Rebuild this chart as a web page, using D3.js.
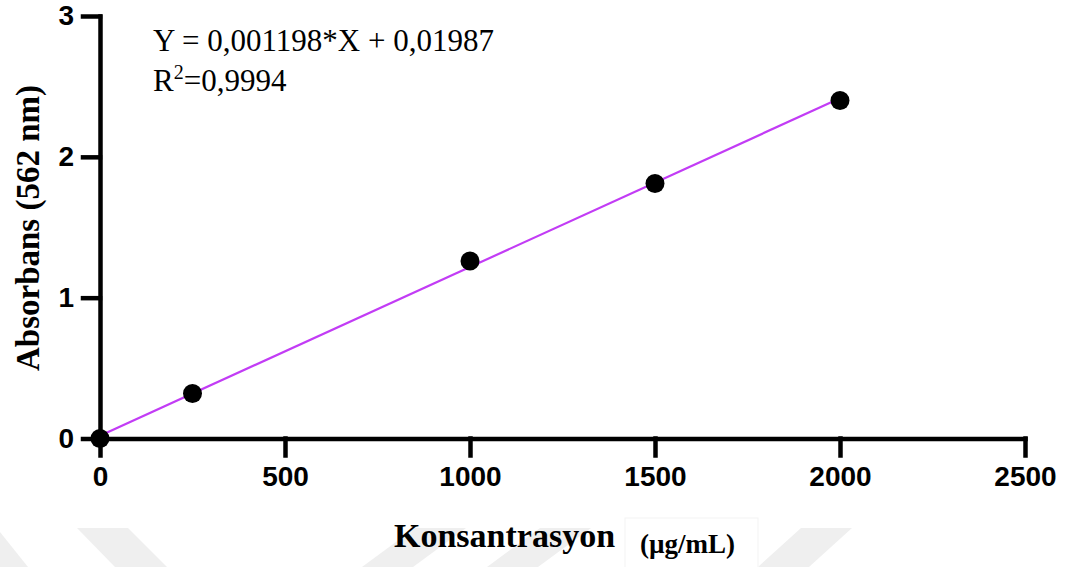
<!DOCTYPE html>
<html>
<head>
<meta charset="utf-8">
<script src="https://cdn.jsdelivr.net/npm/d3@7"></script>
<style>
  html, body { margin: 0; padding: 0; background: #fff; }
  svg { display: block; }
</style>
</head>
<body>
<svg id="chart" width="1072" height="567"></svg>
<script>
// Standard curve: concentration (µg/mL) vs absorbance at 562 nm
const concentrations = [0, 250, 1000, 1500, 2000];
const absorbances = [0, 0.32, 1.26, 1.81, 2.40];
const fitSlope = 0.001198;
const fitIntercept = 0.01987;
const fitRange = [0, 2000];
const xTicks = [0, 500, 1000, 1500, 2000, 2500];
const yTicks = [0, 1, 2, 3];
const equationText = "Y = 0,001198*X + 0,01987";
const r2Value = "0,9994";

const svg = d3.select("#chart");

// faint watermark chevrons along the bottom edge
const bg = svg.append("g").attr("fill", "#efefef");
const bands = [
  [[0, 532], [28, 567], [0, 567]],
  [[77, 528], [128, 528], [167, 567], [115, 567]],
  [[362, 567], [415, 528], [466, 528], [413, 567]],
  [[487, 567], [540, 528], [591, 528], [538, 567]],
  [[758, 567], [801, 528], [852, 528], [809, 567]]
];
bg.selectAll("polygon").data(bands).join("polygon")
  .attr("points", d => d.map(p => p.join(",")).join(" "));
svg.append("rect")
  .attr("x", 625).attr("y", 518).attr("width", 133).attr("height", 52)
  .attr("fill", "#fff").attr("stroke", "#f3f3f3").attr("stroke-width", 1);

const x = d3.scaleLinear().domain([0, 2500]).range([100, 1025]);
const y = d3.scaleLinear().domain([0, 3]).range([438.5, 16]);

const axisFont = "'Liberation Sans', Arial, sans-serif";
const serif = "'Liberation Serif', 'Times New Roman', serif";

function styleAxis(g) {
  g.selectAll("path.domain, .tick line")
    .attr("stroke", "#000").attr("stroke-width", 4.5)
    .attr("stroke-linecap", "square");
  g.selectAll("text")
    .attr("fill", "#000")
    .style("font-family", axisFont)
    .style("font-weight", "bold")
    .style("font-size", "28px");
}

svg.append("g")
  .attr("transform", `translate(0,${y(0)})`)
  .call(d3.axisBottom(x).tickValues(xTicks).tickFormat(d3.format("d"))
    .tickSize(17).tickSizeOuter(0).tickPadding(11))
  .call(styleAxis);

svg.append("g")
  .attr("transform", `translate(${x(0)},0)`)
  .call(d3.axisLeft(y).tickValues(yTicks).tickFormat(d3.format("d"))
    .tickSize(17).tickSizeOuter(0).tickPadding(9))
  .call(styleAxis);

// linear regression line
const fitLine = d3.line().x(d => x(d)).y(d => y(fitSlope * d + fitIntercept));
svg.append("path")
  .datum(fitRange)
  .attr("d", fitLine)
  .attr("fill", "none")
  .attr("stroke", "#c23cf5")
  .attr("stroke-width", 2.2);

// measured points
svg.append("g").selectAll("circle")
  .data(concentrations.map((c, i) => [c, absorbances[i]]))
  .join("circle")
  .attr("cx", d => x(d[0]))
  .attr("cy", d => y(d[1]))
  .attr("r", 9.5)
  .attr("fill", "#000");

// regression equation
svg.append("text")
  .attr("x", 153).attr("y", 51)
  .style("font-family", serif).style("font-size", "31px")
  .text(equationText);
const r2 = svg.append("text")
  .attr("x", 153).attr("y", 91)
  .style("font-family", serif).style("font-size", "31px");
r2.append("tspan").text("R");
r2.append("tspan").attr("dy", -12).style("font-size", "20px").text("2");
r2.append("tspan").attr("dy", 12).text("=" + r2Value);

// axis titles
svg.append("text")
  .attr("transform", "translate(39,228) rotate(-90)")
  .attr("text-anchor", "middle")
  .style("font-family", serif).style("font-weight", "bold").style("font-size", "33px")
  .text("Absorbans (562 nm)");

svg.append("text")
  .attr("x", 394).attr("y", 547)
  .style("font-family", serif).style("font-weight", "bold").style("font-size", "34px")
  .text("Konsantrasyon");
svg.append("text")
  .attr("x", 640).attr("y", 553)
  .style("font-family", serif).style("font-weight", "bold").style("font-size", "27px")
  .text("(µg/mL)");
</script>
</body>
</html>
